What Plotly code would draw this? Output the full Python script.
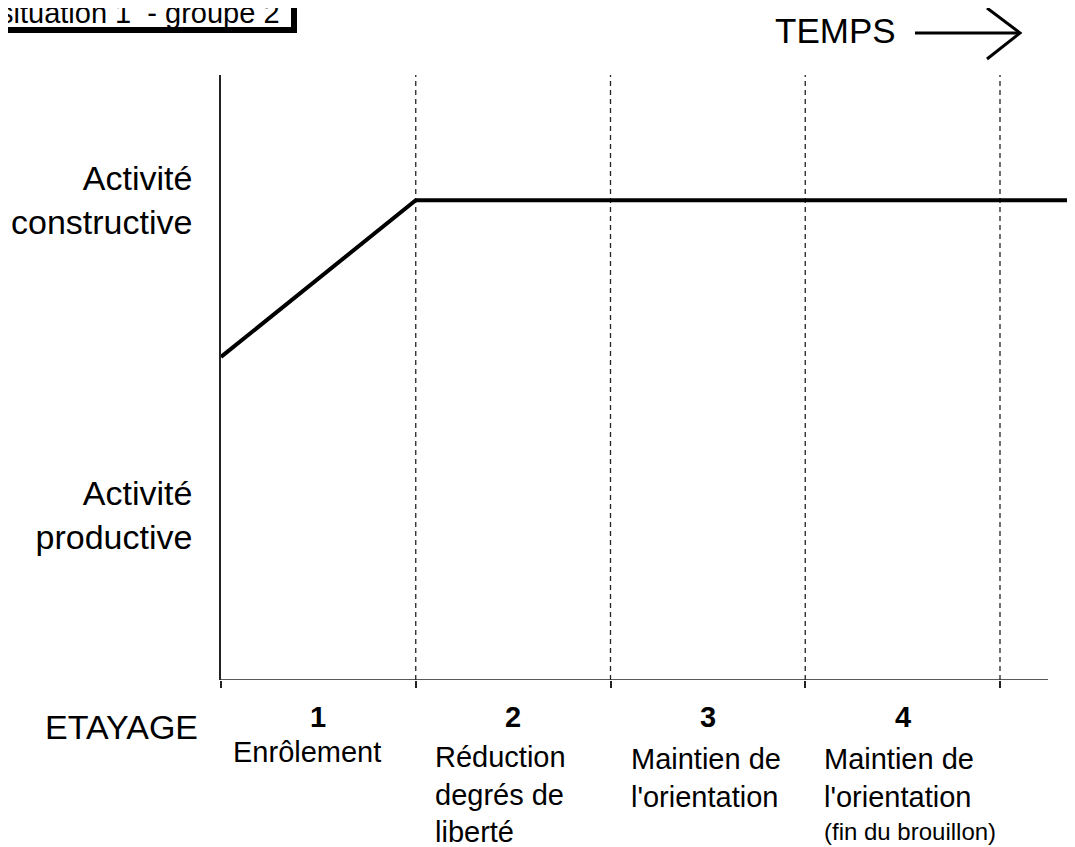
import plotly.graph_objects as go

# ---------------- data ----------------
stage_bounds = [0, 1, 2, 3, 4]
stage_centers = [0.5, 1.5, 2.5, 3.5]
stage_numbers = ["1", "2", "3", "4"]
stage_names = ["Enrôlement",
               "Réduction<br>degrés de<br>liberté",
               "Maintien de<br>l'orientation",
               "Maintien de<br>l'orientation"]
stage_notes = ["", "", "", "(fin du brouillon)"]
activity_levels = [7.93, 2.73]
activity_labels = ["Activité<br>constructive", "Activité<br>productive"]
time_points = [0, 1, 4.39]
activity_values = [5.34, 7.93, 7.93]
title_text = "situation\u00a01 \u00a0- groupe\u00a02"
time_label = "TEMPS"
row_label = "ETAYAGE"

# ---------------- layout geometry ----------------
OFF = 8  # page body margin
W, H = 1075 - OFF, 847 - OFF
L, T = 221 - OFF, 75 - OFF
R = 0
B = H - (680 - OFF)
PW, PH = W - L - R, H - T - B
X_MAX = PW / 194.75
Y_MAX = 10
FONT = "Liberation Sans, Arial, sans-serif"


def px(xp):
    return (xp - OFF - L) / PW


def py(yp):
    return (H - B - (yp - OFF)) / PH


fig = go.Figure()
fig.add_trace(go.Scatter(x=time_points, y=activity_values, mode="lines",
                         line=dict(color="black", width=4), hoverinfo="skip"))

shapes = []
# dashed stage boundaries
for b in stage_bounds[1:]:
    shapes.append(dict(type="line", xref="x", yref="y", x0=b, x1=b, y0=0, y1=Y_MAX,
                       line=dict(color="#222", width=1.3, dash="5px,4px"), layer="below"))
# x axis line
shapes.append(dict(type="line", xref="x", yref="y", x0=0, x1=(1048 - 221) / 194.75, y0=0, y1=0,
                   line=dict(color="#222", width=1.5)))
# title box (shadow + box)
shapes.append(dict(type="rect", xref="paper", yref="paper", x0=px(-10), x1=px(297),
                   y0=py(33), y1=py(-10), fillcolor="black", line=dict(width=0)))
shapes.append(dict(type="rect", xref="paper", yref="paper", x0=px(-10), x1=px(291),
                   y0=py(27), y1=py(-10), fillcolor="white", line=dict(width=0)))
# TEMPS arrow
shapes.append(dict(type="line", xref="paper", yref="paper", x0=px(915), x1=px(1018),
                   y0=py(33), y1=py(33), line=dict(color="black", width=3)))
shapes.append(dict(type="path", xref="paper", yref="paper",
                   path=f"M {px(987)},{py(8)} L {px(1020)},{py(33)} L {px(987)},{py(59)}",
                   line=dict(color="black", width=3)))

ann = []
ann.append(dict(xref="paper", yref="paper", x=px(-3), y=py(13), xanchor="left", yanchor="middle",
                text=title_text, showarrow=False, font=dict(size=29, color="black", family=FONT)))
ann.append(dict(xref="paper", yref="paper", x=px(898), y=py(31), xanchor="right", yanchor="middle",
                text=time_label, showarrow=False, font=dict(size=35, color="black", family=FONT)))
ann.append(dict(xref="paper", yref="paper", x=px(200), y=py(727), xanchor="right", yanchor="middle",
                text=row_label, showarrow=False, font=dict(size=34, color="black", family=FONT)))
for c, n in zip(stage_centers, stage_numbers):
    ann.append(dict(xref="x", yref="paper", x=c, y=py(717), xanchor="center", yanchor="middle",
                    text=f"<b>{n}</b>", showarrow=False,
                    font=dict(size=29, color="black", family=FONT)))
name_x = [0.05, 1.09, 2.095, 3.085]
name_y = [752, 794, 778, 778]
for xv, yv, t in zip(name_x, name_y, stage_names):
    ann.append(dict(xref="x", yref="paper", x=xv, y=py(yv), xanchor="left", yanchor="middle",
                    text=t, align="left", showarrow=False,
                    font=dict(size=29, color="black", family=FONT)))
for xv, t in zip(name_x, stage_notes):
    if t:
        ann.append(dict(xref="x", yref="paper", x=xv, y=py(831), xanchor="left", yanchor="middle",
                        text=t, align="left", showarrow=False,
                        font=dict(size=24, color="black", family=FONT)))

fig.update_layout(
    width=W, height=H,
    margin=dict(l=L, r=R, t=T, b=B, pad=0),
    paper_bgcolor="white", plot_bgcolor="white",
    showlegend=False,
    font=dict(family=FONT, color="black"),
    shapes=shapes, annotations=ann,
    xaxis=dict(range=[0, X_MAX], showgrid=False, zeroline=False, showline=False,
               tickvals=stage_bounds, ticks="outside", ticklen=7, tickwidth=1.5,
               tickcolor="#222", showticklabels=False, fixedrange=True),
    yaxis=dict(range=[0, Y_MAX], showgrid=False, zeroline=False, showline=True,
               linecolor="#222", linewidth=1.5, tickvals=activity_levels,
               ticktext=activity_labels, ticks="", ticklabelstandoff=20,
               tickfont=dict(size=34, color="black", family=FONT), fixedrange=True),
)

fig.write_html("out.html")
